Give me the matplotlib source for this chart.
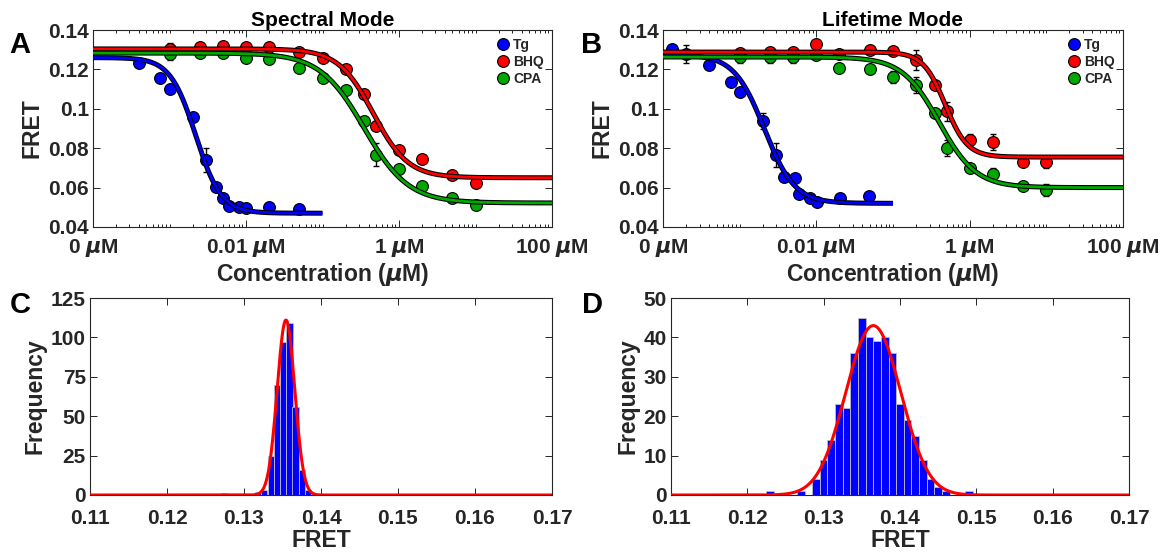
import numpy as np
import matplotlib
matplotlib.use('Agg')
import matplotlib.pyplot as plt
import matplotlib.patheffects as pe
from matplotlib.ticker import FixedLocator, NullFormatter

plt.rcParams['font.family'] = ['Liberation Sans', 'DejaVu Sans']
plt.rcParams['font.weight'] = 'bold'
plt.rcParams['mathtext.fontset'] = 'dejavusans'
plt.rcParams['axes.linewidth'] = 0.8

# ---------- A: spectral mode (concentration in uM, FRET) ----------
a_tg_x = [0.0004, 0.00075, 0.001, 0.002, 0.003, 0.004, 0.005, 0.006, 0.008, 0.01, 0.02, 0.05]
a_tg_y = [0.1231, 0.1155, 0.1099, 0.0960, 0.0740, 0.0605, 0.0546, 0.0507, 0.0500, 0.0495, 0.0500, 0.0491]
a_tg_err = [0.001, 0.001, 0.001, 0.001, 0.006, 0.002, 0.001, 0.001, 0.001, 0.001, 0.0005, 0.0005]

a_bhq_x = [0.001, 0.0025, 0.005, 0.01, 0.02, 0.05, 0.1, 0.2, 0.35, 0.5, 1, 2, 5, 10]
a_bhq_y = [0.1305, 0.1316, 0.1321, 0.1312, 0.1312, 0.1290, 0.1257, 0.1200, 0.1076, 0.0914, 0.0790, 0.0746, 0.0663, 0.0621]
a_bhq_err = [0.003, 0.001, 0.001, 0.001, 0.001, 0.001, 0.001, 0.001, 0.001, 0.002, 0.001, 0.001, 0.001, 0.001]

a_cpa_x = [0.001, 0.0025, 0.005, 0.01, 0.02, 0.05, 0.1, 0.2, 0.35, 0.5, 1, 2, 5, 10]
a_cpa_y = [0.1280, 0.1282, 0.1282, 0.1257, 0.1252, 0.1206, 0.1155, 0.1096, 0.0936, 0.0768, 0.0692, 0.0607, 0.0545, 0.0510]
a_cpa_err = [0.003, 0.001, 0.001, 0.001, 0.001, 0.001, 0.001, 0.001, 0.001, 0.006, 0.001, 0.001, 0.001, 0.001]

# fitted dose-response parameters: top, bottom, IC50, hill slope
a_tg_fit = [0.1260, 0.0470, 0.0022, 2.6]
a_bhq_fit = [0.1304, 0.0650, 0.46, 1.9]
a_cpa_fit = [0.1283, 0.0522, 0.35, 1.5]

# ---------- B: lifetime mode ----------
b_tg_x = [0.00013, 0.0002, 0.0004, 0.00078, 0.001, 0.002, 0.003, 0.0038, 0.0052, 0.006, 0.0083, 0.0101, 0.0204, 0.049]
b_tg_y = [0.1302, 0.1278, 0.1222, 0.1138, 0.1087, 0.0940, 0.0765, 0.0655, 0.0650, 0.0566, 0.0546, 0.0529, 0.0546, 0.0557]
b_tg_err = [0.001, 0.0047, 0.001, 0.001, 0.001, 0.004, 0.006, 0.002, 0.002, 0.001, 0.001, 0.001, 0.001, 0.002]

b_bhq_x = [0.001, 0.0025, 0.005, 0.01, 0.02, 0.05, 0.1, 0.2, 0.35, 0.5, 1, 2, 5, 10]
b_bhq_y = [0.1285, 0.1290, 0.1290, 0.1327, 0.1280, 0.1299, 0.1295, 0.1248, 0.1122, 0.0987, 0.0844, 0.0830, 0.0729, 0.0729]
b_bhq_err = [0.002, 0.002, 0.002, 0.001, 0.001, 0.001, 0.002, 0.005, 0.002, 0.005, 0.003, 0.004, 0.002, 0.003]

b_cpa_x = [0.001, 0.0025, 0.005, 0.01, 0.02, 0.05, 0.1, 0.2, 0.35, 0.5, 1, 2, 5, 10]
b_cpa_y = [0.1262, 0.1262, 0.1262, 0.1275, 0.1206, 0.1201, 0.1160, 0.1122, 0.0978, 0.0801, 0.0700, 0.0671, 0.0607, 0.0587]
b_cpa_err = [0.003, 0.003, 0.003, 0.001, 0.002, 0.002, 0.003, 0.004, 0.002, 0.004, 0.002, 0.003, 0.002, 0.003]

b_tg_fit = [0.1275, 0.0520, 0.0021, 2.2]
b_bhq_fit = [0.1288, 0.0755, 0.48, 3.0]
b_cpa_fit = [0.1263, 0.0600, 0.40, 1.8]

# ---------- C / D: FRET histograms ----------
c_centers = [0.1274, 0.1318, 0.1326, 0.1335, 0.1343, 0.1351, 0.1359, 0.1367, 0.1375, 0.1383]
c_counts = [1, 2, 3, 25, 70, 97, 109, 56, 16, 3]
c_gauss = [111, 0.13545, 0.00114]   # amplitude, mean, sigma

d_centers = [0.123, 0.127, 0.129, 0.130, 0.131, 0.132, 0.133, 0.134, 0.135, 0.136, 0.137,
             0.138, 0.139, 0.140, 0.141, 0.142, 0.143, 0.144, 0.145, 0.146, 0.149]
d_counts = [1, 1, 4, 9, 14, 23, 22, 36, 45, 40, 39, 40, 36, 23, 19, 15, 9, 4, 2, 1, 1]
d_gauss = [43, 0.1365, 0.0036]

conc_ticks = [1e-4, 1e-2, 1, 100]
conc_labels = [r'0 $\mu$M', r'0.01 $\mu$M', r'1 $\mu$M', r'100 $\mu$M']

BLUE = '#0000ff'
RED = '#ff0000'
GREEN = '#00a800'
TXT = '#262626'

W, H = 1166, 554
fig = plt.figure(figsize=(W / 100, H / 100), dpi=100)


def box(l, t, r, b):
    return [l / W, 1 - b / H, (r - l) / W, (b - t) / H]


def hill(x, top, bottom, ic50, n):
    return bottom + (top - bottom) / (1 + (x / ic50) ** n)


def style(ax, xpad):
    ax.tick_params(direction='in', top=True, right=True, labelsize=15,
                   colors=TXT, length=5, width=0.7, pad=3)
    ax.tick_params(axis='x', pad=xpad)
    ax.tick_params(which='minor', direction='in', top=True, right=True, length=2.5, width=0.6)
    for s in ax.spines.values():
        s.set_color(TXT)
    for lab in ax.get_xticklabels() + ax.get_yticklabels():
        lab.set_fontweight('bold')


def dose_panel(ax, series, title):
    for x, y, err, fit, col, name, xend in series:
        ax.errorbar(x, y, yerr=err, fmt='none', ecolor='black', elinewidth=1.0,
                    capsize=2.5, capthick=1.0, zorder=2)
        ax.plot(x, y, 'o', ms=8.5, mfc=col, mec='black', mew=0.8, label=name, zorder=3)
    for x, y, err, fit, col, name, xend in series:
        xs = np.logspace(-4, np.log10(xend), 400)
        ax.plot(xs, hill(xs, *fit), color=col, lw=2.0, zorder=4, solid_capstyle='butt',
                path_effects=[pe.Stroke(linewidth=3.6, foreground='black'), pe.Normal()])
    ax.set_xscale('log')
    ax.set_xlim(1e-4, 100)
    ax.set_ylim(0.04, 0.14)
    ax.set_yticks([0.04, 0.06, 0.08, 0.1, 0.12, 0.14])
    ax.set_yticklabels(['0.04', '0.06', '0.08', '0.1', '0.12', '0.14'])
    ax.xaxis.set_major_locator(FixedLocator(conc_ticks))
    ax.set_xticklabels(conc_labels)
    minors = [m * 10.0 ** e for e in range(-4, 2) for m in range(1, 10)]
    minors = [v for v in minors if v not in conc_ticks and v <= 100]
    ax.xaxis.set_minor_locator(FixedLocator(minors))
    ax.xaxis.set_minor_formatter(NullFormatter())
    ax.set_xlabel(r'Concentration ($\mu$M)', fontsize=16.5, fontweight='bold', color=TXT, labelpad=2)
    ax.set_ylabel('FRET', fontsize=16.5, fontweight='bold', color=TXT, labelpad=3)
    ax.set_title(title, fontsize=15, fontweight='bold', color='black', pad=2)
    leg = ax.legend(loc='upper right', frameon=False, fontsize=10, handletextpad=0.0,
                    borderaxespad=0.4, labelspacing=0.2, handlelength=1.4, borderpad=0.2)
    for t in leg.get_texts():
        t.set_fontweight('bold')
        t.set_color(TXT)
    style(ax, 7)


def hist_panel(ax, centers, counts, width, gauss, ymax, ystep):
    ax.bar(centers, counts, width=width, color=BLUE, edgecolor='#bfbfbf', linewidth=0.6, zorder=2)
    xs = np.linspace(0.11, 0.17, 1200)
    amp, mu, sd = gauss
    ax.plot(xs, amp * np.exp(-0.5 * ((xs - mu) / sd) ** 2), color=RED, lw=2.2, zorder=3)
    ax.set_xlim(0.11, 0.17)
    ax.set_ylim(0, ymax)
    ax.set_xticks([0.11, 0.12, 0.13, 0.14, 0.15, 0.16, 0.17])
    ax.set_xticklabels(['0.11', '0.12', '0.13', '0.14', '0.15', '0.16', '0.17'])
    ax.set_yticks(np.arange(0, ymax + 1, ystep))
    ax.set_xlabel('FRET', fontsize=16.5, fontweight='bold', color=TXT, labelpad=1)
    ax.set_ylabel('Frequency', fontsize=16.5, fontweight='bold', color=TXT, labelpad=3)
    style(ax, 10)


axA = fig.add_axes(box(93, 30, 552, 227))
dose_panel(axA, [
    (a_tg_x, a_tg_y, a_tg_err, a_tg_fit, BLUE, 'Tg', 0.1),
    (a_bhq_x, a_bhq_y, a_bhq_err, a_bhq_fit, RED, 'BHQ', 100),
    (a_cpa_x, a_cpa_y, a_cpa_err, a_cpa_fit, GREEN, 'CPA', 100),
], 'Spectral Mode')

axB = fig.add_axes(box(663, 30, 1123, 227))
dose_panel(axB, [
    (b_tg_x, b_tg_y, b_tg_err, b_tg_fit, BLUE, 'Tg', 0.1),
    (b_bhq_x, b_bhq_y, b_bhq_err, b_bhq_fit, RED, 'BHQ', 100),
    (b_cpa_x, b_cpa_y, b_cpa_err, b_cpa_fit, GREEN, 'CPA', 100),
], 'Lifetime Mode')

axC = fig.add_axes(box(90, 298, 552, 495))
hist_panel(axC, c_centers, c_counts, 0.00082, c_gauss, 125, 25)

axD = fig.add_axes(box(671, 298, 1129, 495))
hist_panel(axD, d_centers, d_counts, 0.001, d_gauss, 50, 10)

for letter, px, py in [('A', 20, 45), ('B', 592, 45), ('C', 20, 305), ('D', 592, 305)]:
    fig.text(px / W, 1 - py / H, letter, fontsize=21, fontweight='bold',
             ha='center', va='center', color='black')

fig.savefig('out.png', dpi=100)
